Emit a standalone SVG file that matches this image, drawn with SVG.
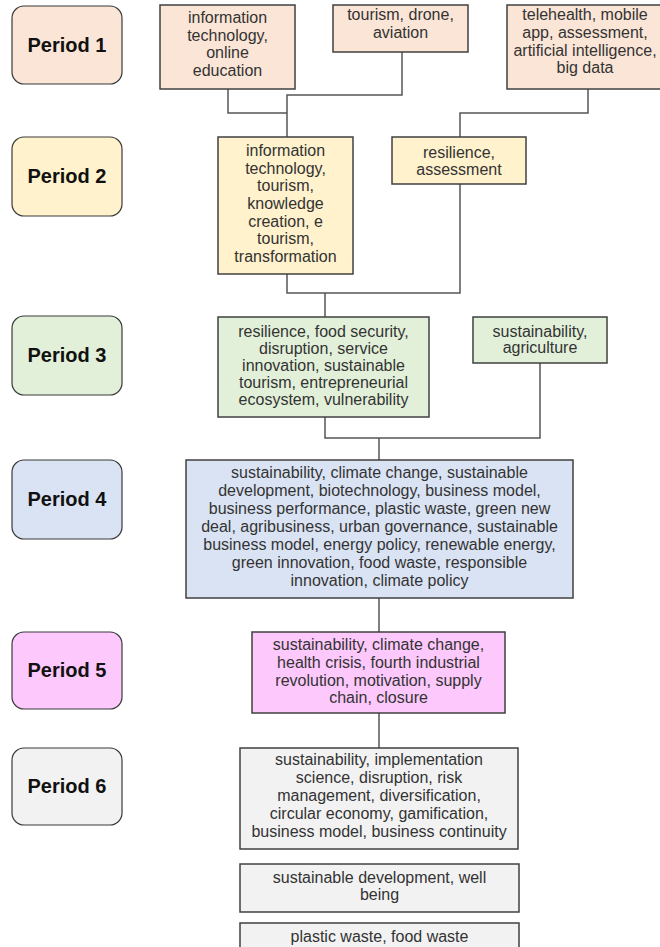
<svg xmlns="http://www.w3.org/2000/svg" width="660" height="947" viewBox="0 0 660 947">
  <style>
    .lbl { stroke: #3a3a3a; stroke-width: 1.2; }
    .lbl-t { font-family: "Liberation Sans", Arial, sans-serif; font-size: 20px; font-weight: bold; fill: #111; text-anchor: middle; }
    .box { stroke: #404040; stroke-width: 1.5; }
    .t { font-family: "Liberation Sans", Arial, sans-serif; font-size: 16px; fill: #333; text-anchor: middle; }
    .p1 { fill: #fbe5d6; }
    .p2 { fill: #fff2cc; }
    .p3 { fill: #e2f0d9; }
    .p4 { fill: #dae3f3; }
    .p5 { fill: #fdc8fc; }
    .p6 { fill: #f2f2f2; }
    .conn { fill: none; stroke: #555; stroke-width: 1.5; }
  </style>
  <rect width="660" height="947" fill="#ffffff"/>

  <!-- period labels -->
  <g id="period-1"><rect class="lbl p1" x="12" y="6" width="110" height="78" rx="12"/><text class="lbl-t" x="67" y="52">Period 1</text></g>
  <g id="period-2"><rect class="lbl p2" x="12" y="137" width="110" height="79" rx="12"/><text class="lbl-t" x="67" y="183">Period 2</text></g>
  <g id="period-3"><rect class="lbl p3" x="12" y="316" width="110" height="79" rx="12"/><text class="lbl-t" x="67" y="362">Period 3</text></g>
  <g id="period-4"><rect class="lbl p4" x="12" y="460" width="110" height="79" rx="12"/><text class="lbl-t" x="67" y="506">Period 4</text></g>
  <g id="period-5"><rect class="lbl p5" x="12" y="632" width="110" height="77" rx="12"/><text class="lbl-t" x="67" y="677">Period 5</text></g>
  <g id="period-6"><rect class="lbl p6" x="12" y="748" width="110" height="77" rx="12"/><text class="lbl-t" x="67" y="793">Period 6</text></g>

  <!-- connectors -->
  <g id="connectors">
    <polyline class="conn" points="228,89 228,113 287,113"/>
    <polyline class="conn" points="402,52 402,95 287,95 287,137"/>
    <polyline class="conn" points="588,89 588,113 460,113 460,137"/>
    <polyline class="conn" points="287,274 287,293 460,293 460,184"/>
    <line class="conn" x1="325" y1="293" x2="325" y2="317"/>
    <polyline class="conn" points="325,417 325,438 540,438 540,363"/>
    <line class="conn" x1="379" y1="438" x2="379" y2="460"/>
    <line class="conn" x1="379" y1="598" x2="379" y2="632"/>
    <line class="conn" x1="379" y1="713" x2="379" y2="748"/>
  </g>

  <!-- period 1 -->
  <g id="p1-it-education">
    <rect class="box p1" x="160" y="5" width="135" height="84"/>
    <text class="t"><tspan x="227.5" y="23">information</tspan><tspan x="227.5" y="41">technology,</tspan><tspan x="227.5" y="58">online</tspan><tspan x="227.5" y="76">education</tspan></text>
  </g>
  <g id="p1-tourism">
    <rect class="box p1" x="333" y="5" width="135" height="47"/>
    <text class="t"><tspan x="400.5" y="20">tourism, drone,</tspan><tspan x="400.5" y="38">aviation</tspan></text>
  </g>
  <g id="p1-telehealth">
    <rect class="box p1" x="507" y="5" width="160" height="84"/>
    <text class="t"><tspan x="585" y="20">telehealth, mobile</tspan><tspan x="585" y="38">app, assessment,</tspan><tspan x="585" y="56">artificial intelligence,</tspan><tspan x="585" y="73">big data</tspan></text>
  </g>

  <!-- period 2 -->
  <g id="p2-it-tourism">
    <rect class="box p2" x="218" y="137" width="135" height="137"/>
    <text class="t"><tspan x="285.5" y="156">information</tspan><tspan x="285.5" y="174">technology,</tspan><tspan x="285.5" y="191">tourism,</tspan><tspan x="285.5" y="209">knowledge</tspan><tspan x="285.5" y="227">creation, e</tspan><tspan x="285.5" y="244">tourism,</tspan><tspan x="285.5" y="262">transformation</tspan></text>
  </g>
  <g id="p2-resilience">
    <rect class="box p2" x="392" y="137" width="134" height="47"/>
    <text class="t"><tspan x="459" y="158">resilience,</tspan><tspan x="459" y="175">assessment</tspan></text>
  </g>

  <!-- period 3 -->
  <g id="p3-resilience">
    <rect class="box p3" x="218" y="317" width="211" height="100"/>
    <text class="t"><tspan x="323.5" y="337">resilience, food security,</tspan><tspan x="323.5" y="354">disruption, service</tspan><tspan x="323.5" y="371">innovation, sustainable</tspan><tspan x="323.5" y="388">tourism, entrepreneurial</tspan><tspan x="323.5" y="405">ecosystem, vulnerability</tspan></text>
  </g>
  <g id="p3-sustainability">
    <rect class="box p3" x="473" y="317" width="134" height="46"/>
    <text class="t"><tspan x="540" y="337">sustainability,</tspan><tspan x="540" y="353">agriculture</tspan></text>
  </g>

  <!-- period 4 -->
  <g id="p4-sustainability">
    <rect class="box p4" x="186" y="460" width="387" height="138"/>
    <text class="t"><tspan x="379.5" y="478">sustainability, climate change, sustainable</tspan><tspan x="379.5" y="496">development, biotechnology, business model,</tspan><tspan x="379.5" y="514">business performance, plastic waste, green new</tspan><tspan x="379.5" y="532">deal, agribusiness, urban governance, sustainable</tspan><tspan x="379.5" y="550">business model, energy policy, renewable energy,</tspan><tspan x="379.5" y="568">green innovation, food waste, responsible</tspan><tspan x="379.5" y="586">innovation, climate policy</tspan></text>
  </g>

  <!-- period 5 -->
  <g id="p5-sustainability">
    <rect class="box p5" x="252" y="632" width="253" height="81"/>
    <text class="t"><tspan x="378.5" y="650">sustainability, climate change,</tspan><tspan x="378.5" y="668">health crisis, fourth industrial</tspan><tspan x="378.5" y="686">revolution, motivation, supply</tspan><tspan x="378.5" y="703">chain, closure</tspan></text>
  </g>

  <!-- period 6 -->
  <g id="p6-sustainability">
    <rect class="box p6" x="240" y="748" width="278" height="101"/>
    <text class="t"><tspan x="379" y="765">sustainability, implementation</tspan><tspan x="379" y="783">science, disruption, risk</tspan><tspan x="379" y="801">management, diversification,</tspan><tspan x="379" y="819">circular economy, gamification,</tspan><tspan x="379" y="837">business model, business continuity</tspan></text>
  </g>
  <g id="p6-development">
    <rect class="box p6" x="240" y="864" width="279" height="48"/>
    <text class="t"><tspan x="379.5" y="883">sustainable development, well</tspan><tspan x="379.5" y="900">being</tspan></text>
  </g>
  <g id="p6-waste">
    <rect class="box p6" x="240" y="923" width="279" height="40"/>
    <text class="t"><tspan x="379.5" y="942">plastic waste, food  waste</tspan></text>
  </g>
</svg>
